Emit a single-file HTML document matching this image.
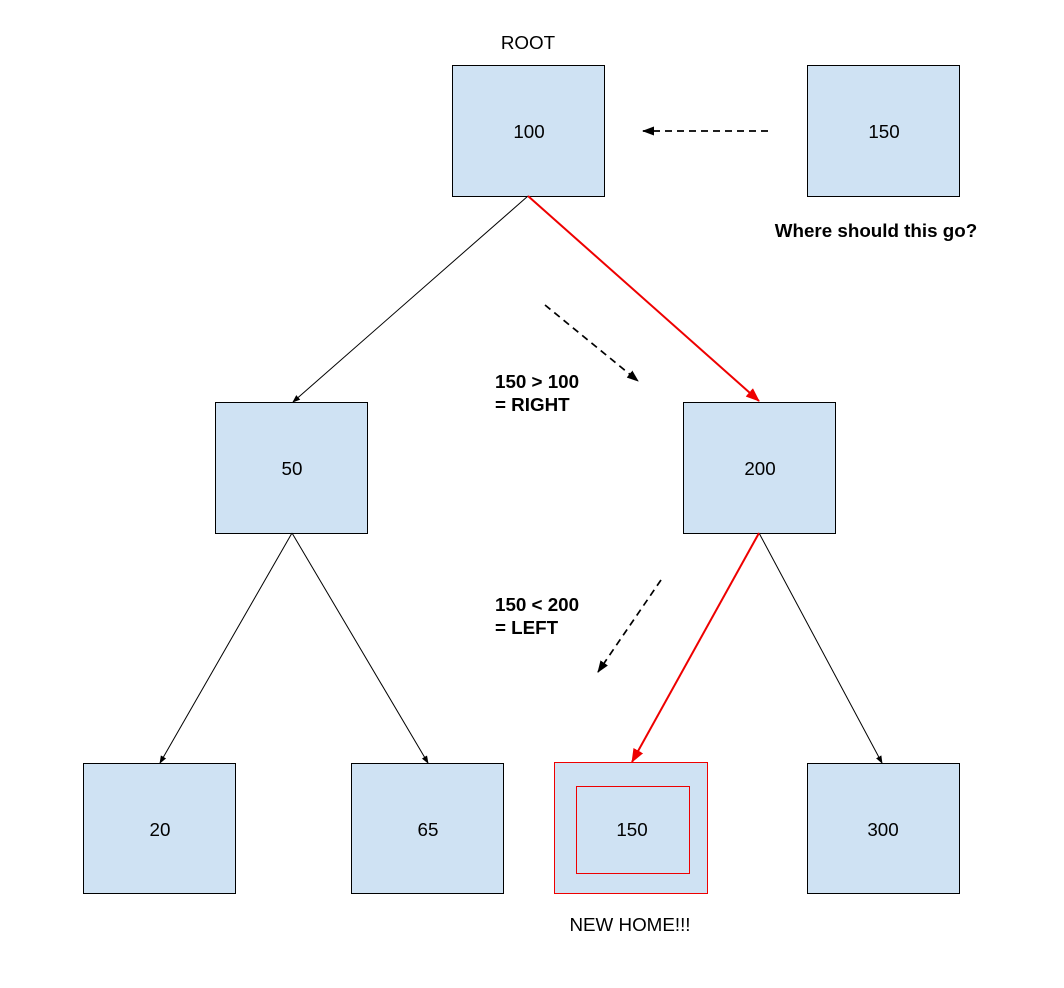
<!DOCTYPE html>
<html><head><meta charset="utf-8"><style>
html,body{margin:0;padding:0;background:#fff;}
svg{display:block;}
text{font-family:"Liberation Sans",Arial,sans-serif;font-size:18.8px;fill:#000;}
.b{font-weight:bold;}
</style></head><body>
<svg width="1064" height="988" viewBox="0 0 1064 988" xmlns="http://www.w3.org/2000/svg">
<defs>
<marker id="ak" markerWidth="12" markerHeight="12" refX="11" refY="6" orient="auto" markerUnits="userSpaceOnUse"><path d="M0,1.5 L12,6 L0,10.5 z" fill="#000"/></marker>
<marker id="aks" markerWidth="8" markerHeight="8" refX="7" refY="4" orient="auto" markerUnits="userSpaceOnUse"><path d="M0,1 L8,4 L0,7 z" fill="#000"/></marker>
<marker id="ar" markerWidth="14" markerHeight="14" refX="13" refY="7" orient="auto" markerUnits="userSpaceOnUse"><path d="M0,1.5 L14,7 L0,12.5 z" fill="#e00"/></marker>
</defs>
<g fill="#cfe2f3" stroke="#000" stroke-width="1">
<rect x="452.5" y="65.5" width="152" height="131"/>
<rect x="807.5" y="65.5" width="152" height="131"/>
<rect x="215.5" y="402.5" width="152" height="131"/>
<rect x="683.5" y="402.5" width="152" height="131"/>
<rect x="83.5" y="763.5" width="152" height="130"/>
<rect x="351.5" y="763.5" width="152" height="130"/>
<rect x="807.5" y="763.5" width="152" height="130"/>
</g>
<rect x="554.5" y="762.5" width="153" height="131" fill="#cfe2f3" stroke="#e00" stroke-width="1"/>
<rect x="576.5" y="786.5" width="113" height="87" fill="none" stroke="#e00" stroke-width="1"/>
<g stroke="#000" stroke-width="1" fill="none">
<line x1="528" y1="196" x2="293" y2="402" marker-end="url(#aks)"/>
<line x1="292" y1="533" x2="160" y2="763" marker-end="url(#aks)"/>
<line x1="292" y1="533" x2="428" y2="763" marker-end="url(#aks)"/>
<line x1="759" y1="533" x2="882" y2="763" marker-end="url(#aks)"/>
</g>
<g stroke="#e00" stroke-width="2" fill="none">
<line x1="528" y1="196" x2="759" y2="401" marker-end="url(#ar)"/>
<line x1="759" y1="533" x2="632" y2="762" marker-end="url(#ar)"/>
</g>
<g stroke="#000" stroke-width="1.7" fill="none" stroke-dasharray="7,5">
<line x1="768" y1="131" x2="643" y2="131" marker-end="url(#ak)"/>
<line x1="545" y1="305" x2="638" y2="381" marker-end="url(#ak)"/>
<line x1="661" y1="580" x2="598" y2="672" marker-end="url(#ak)"/>
</g>
<text x="528" y="49" text-anchor="middle">ROOT</text>
<text x="529" y="138" text-anchor="middle">100</text>
<text x="884" y="138" text-anchor="middle">150</text>
<text x="876" y="237" text-anchor="middle" class="b">Where should this go?</text>
<text x="292" y="475" text-anchor="middle">50</text>
<text x="760" y="475" text-anchor="middle">200</text>
<text x="160" y="836" text-anchor="middle">20</text>
<text x="428" y="836" text-anchor="middle">65</text>
<text x="632" y="836" text-anchor="middle">150</text>
<text x="883" y="836" text-anchor="middle">300</text>
<text x="495" y="388" class="b">150 &gt; 100</text>
<text x="495" y="411" class="b">= RIGHT</text>
<text x="495" y="611" class="b">150 &lt; 200</text>
<text x="495" y="634" class="b">= LEFT</text>
<text x="630" y="931" text-anchor="middle">NEW HOME!!!</text>
</svg>
</body></html>
